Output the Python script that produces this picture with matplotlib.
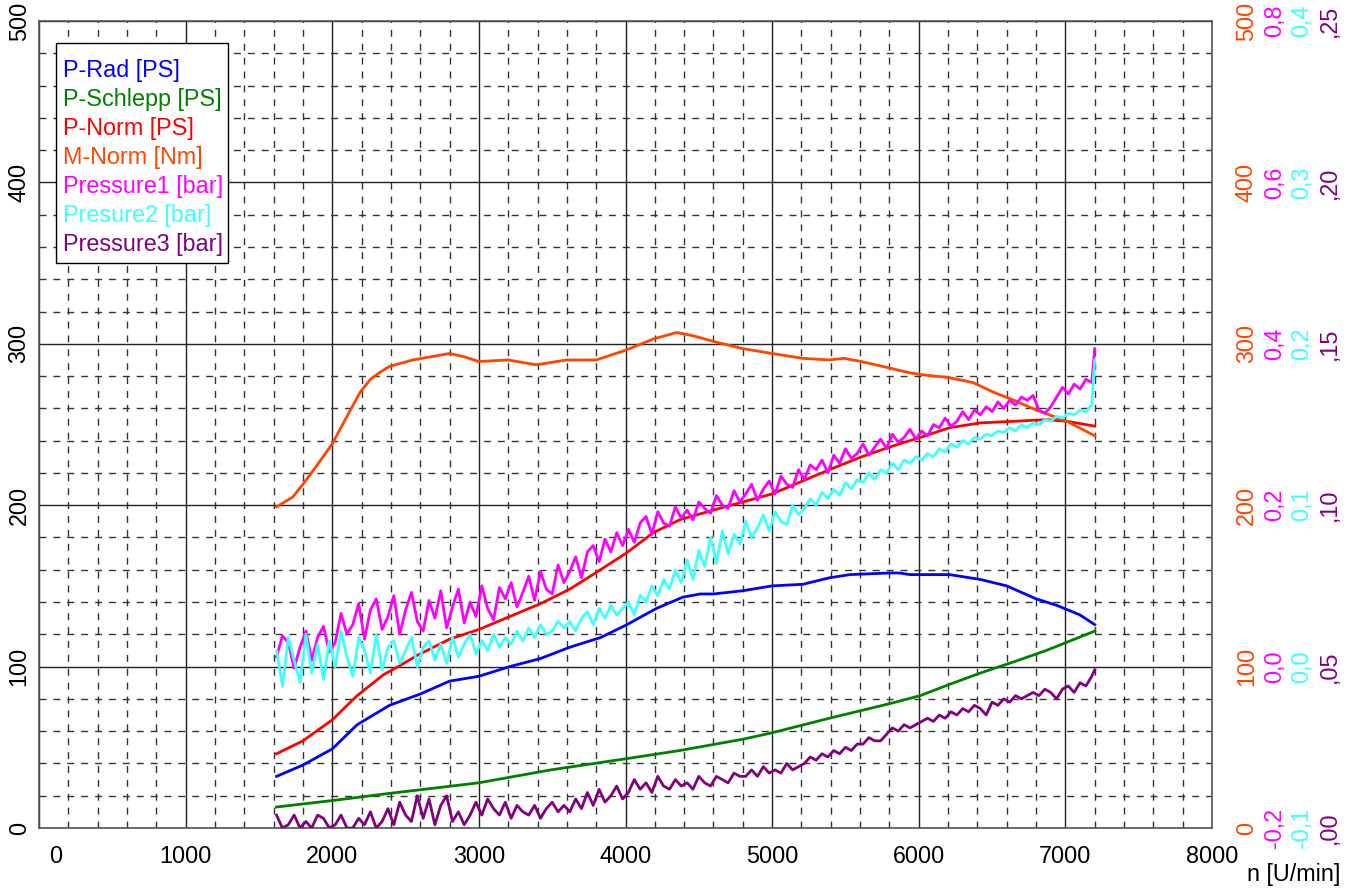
import numpy as np
import matplotlib
matplotlib.use("Agg")
import matplotlib.pyplot as plt
import matplotlib.transforms as mtransforms
from matplotlib.patches import Rectangle
from matplotlib.ticker import MultipleLocator

plt.rcParams["font.family"] = ["Liberation Sans", "DejaVu Sans"]
plt.rcParams["font.size"] = 16.8

# smooth curves: engine speed [U/min] and value
rpm_mnorm = [1620, 1730, 1800, 1890, 2000, 2100, 2190, 2260, 2320, 2390, 2550, 2800,
             2900, 3000, 3200, 3390, 3600, 3800, 4000, 4190, 4350, 4460, 4620, 4800,
             5000, 5210, 5390, 5490, 5610, 5800, 5940, 6010, 6210, 6370, 6510, 6650,
             6800, 7010, 7200]
m_norm = [199, 205, 213, 224, 238, 255, 270, 278, 282, 286, 290, 294,
          292, 289, 290, 287, 290, 290, 296, 303, 307, 305, 301, 297,
          294, 291, 290, 291, 289, 285, 282, 281, 279, 276, 270, 265,
          259, 252, 243]

rpm_pnorm = [1620, 1800, 2000, 2170, 2350, 2450, 2580, 2800, 3000, 3210, 3420, 3620,
             3760, 4000, 4190, 4370, 4600, 5000, 5390, 5610, 5800, 6010, 6210, 6420,
             6650, 6870, 7010, 7200]
p_norm = [46, 54, 67, 82, 95, 100, 107, 117, 123, 131, 139, 148,
          156, 170, 183, 191, 197, 207, 222, 230, 236, 242, 248, 251,
          252, 253, 252, 249]

rpm_prad = [1620, 1800, 2000, 2170, 2390, 2600, 2800, 3000, 3210, 3420, 3620, 3830,
            4010, 4210, 4390, 4510, 4600, 4800, 5000, 5210, 5390, 5530, 5800, 5870,
            5940, 6150, 6210, 6420, 6600, 6800, 6940, 7100, 7200]
p_rad = [32, 39, 49, 64, 76, 83, 91, 94, 100, 105, 112, 118,
         126, 136, 143, 145, 145, 147, 150, 151, 155, 157, 158, 158,
         157, 157, 157, 154, 150, 142, 138, 132, 126]

rpm_schlepp = [1620, 2000, 2350, 3000, 3490, 4010, 4370, 4800, 5000, 5390, 5800,
               6010, 6210, 6420, 6650, 6870, 7200]
p_schlepp = [13, 17, 21, 28, 36, 43, 48, 55, 59, 68, 77,
             82, 89, 96, 103, 110, 122]

# pressure channels, sampled every 40 U/min from 1620, last sample at 7200
rpm_press = np.append(np.arange(1620, 7181, 40), 7200)

pressure1 = [
    0.012, 0.038, 0.030, -0.002, 0.024, 0.044, 0.008, 0.036, 0.050, 0.018,
    0.030, 0.066, 0.040, 0.052, 0.078, 0.034, 0.070, 0.084, 0.046, 0.062,
    0.088, 0.040, 0.070, 0.092, 0.056, 0.044, 0.082, 0.060, 0.094, 0.048,
    0.074, 0.096, 0.054, 0.080, 0.062, 0.100, 0.072, 0.058, 0.098, 0.084,
    0.104, 0.074, 0.092, 0.112, 0.082, 0.118, 0.096, 0.090, 0.126, 0.104,
    0.118, 0.136, 0.110, 0.142, 0.150, 0.130, 0.158, 0.142, 0.166, 0.150,
    0.170, 0.154, 0.178, 0.186, 0.164, 0.192, 0.178, 0.174, 0.198, 0.184,
    0.194, 0.182, 0.204, 0.196, 0.190, 0.212, 0.200, 0.196, 0.218, 0.204,
    0.214, 0.226, 0.206, 0.220, 0.230, 0.214, 0.236, 0.226, 0.222, 0.244,
    0.232, 0.250, 0.244, 0.256, 0.240, 0.262, 0.252, 0.270, 0.258, 0.264,
    0.276, 0.262, 0.272, 0.282, 0.270, 0.288, 0.278, 0.284, 0.294, 0.282,
    0.292, 0.286, 0.300, 0.296, 0.308, 0.298, 0.304, 0.316, 0.306, 0.318,
    0.312, 0.322, 0.316, 0.328, 0.320, 0.330, 0.324, 0.334, 0.330, 0.336,
    0.318, 0.314, 0.322, 0.334, 0.346, 0.338, 0.350, 0.344, 0.356, 0.352,
    0.394,
]

pressure2 = [
    0.010, -0.012, 0.018, 0.004, -0.010, 0.020, -0.004, 0.014, -0.008, 0.016,
    0.000, 0.022, 0.006, -0.006, 0.018, 0.010, -0.004, 0.020, -0.002, 0.012,
    0.016, 0.002, 0.010, 0.018, 0.000, 0.012, 0.016, 0.004, 0.014, 0.002,
    0.018, 0.006, 0.014, 0.020, 0.008, 0.016, 0.010, 0.020, 0.012, 0.018,
    0.014, 0.022, 0.016, 0.024, 0.018, 0.026, 0.020, 0.022, 0.028, 0.024,
    0.028, 0.022, 0.030, 0.034, 0.026, 0.036, 0.030, 0.038, 0.032, 0.036,
    0.040, 0.032, 0.044, 0.040, 0.050, 0.044, 0.054, 0.048, 0.060, 0.052,
    0.066, 0.054, 0.072, 0.062, 0.080, 0.064, 0.084, 0.070, 0.082, 0.076,
    0.090, 0.080, 0.086, 0.094, 0.084, 0.096, 0.090, 0.088, 0.100, 0.094,
    0.098, 0.104, 0.100, 0.108, 0.104, 0.110, 0.106, 0.114, 0.110, 0.116,
    0.114, 0.120, 0.116, 0.122, 0.120, 0.126, 0.122, 0.128, 0.126, 0.130,
    0.128, 0.132, 0.130, 0.135, 0.133, 0.138, 0.136, 0.140, 0.138, 0.142,
    0.141, 0.144, 0.143, 0.146, 0.145, 0.148, 0.146, 0.150, 0.148, 0.151,
    0.150, 0.153, 0.152, 0.155, 0.154, 0.157, 0.156, 0.159, 0.158, 0.162,
    0.190,
]

pressure3 = [
    0.004, 0.000, 0.001, 0.004, 0.000, 0.002, 0.000, 0.004, 0.003, 0.000,
    0.001, 0.004, 0.000, 0.000, 0.003, 0.001, 0.005, 0.000, 0.002, 0.006,
    0.001, 0.008, 0.004, 0.002, 0.010, 0.003, 0.009, 0.001, 0.007, 0.010,
    0.002, 0.005, 0.001, 0.004, 0.008, 0.004, 0.009, 0.006, 0.004, 0.008,
    0.003, 0.007, 0.005, 0.004, 0.007, 0.003, 0.006, 0.008, 0.005, 0.007,
    0.005, 0.009, 0.006, 0.011, 0.007, 0.012, 0.008, 0.010, 0.013, 0.009,
    0.011, 0.015, 0.012, 0.014, 0.011, 0.016, 0.013, 0.012, 0.015, 0.013,
    0.014, 0.012, 0.016, 0.014, 0.013, 0.016, 0.015, 0.014, 0.017, 0.016,
    0.016, 0.018, 0.016, 0.019, 0.017, 0.018, 0.017, 0.020, 0.018, 0.019,
    0.020, 0.022, 0.021, 0.023, 0.022, 0.024, 0.023, 0.025, 0.024, 0.026,
    0.026, 0.028, 0.027, 0.027, 0.029, 0.031, 0.030, 0.032, 0.031, 0.032,
    0.033, 0.034, 0.033, 0.035, 0.034, 0.036, 0.035, 0.037, 0.036, 0.038,
    0.037, 0.035, 0.039, 0.038, 0.040, 0.039, 0.041, 0.040, 0.041, 0.042,
    0.041, 0.043, 0.042, 0.040, 0.043, 0.044, 0.042, 0.045, 0.044, 0.047,
    0.049,
]

labels = ["P-Rad [PS]", "P-Schlepp [PS]", "P-Norm [PS]", "M-Norm [Nm]",
          "Pressure1 [bar]", "Presure2 [bar]", "Pressure3 [bar]"]

x_ticks = [0, 1000, 2000, 3000, 4000, 5000, 6000, 7000, 8000]
ps_ticks = [0, 100, 200, 300, 400, 500]

# right-hand scales
nm_ticks = [0, 100, 200, 300, 400, 500]
nm_labels = ["0", "100", "200", "300", "400", "500"]
p1_ticks = [-0.2, 0.0, 0.2, 0.4, 0.6, 0.8]
p1_labels = ["-0,2", "0,0", "0,2", "0,4", "0,6", "0,8"]
p2_ticks = [-0.1, 0.0, 0.1, 0.2, 0.3, 0.4]
p2_labels = ["-0,1", "0,0", "0,1", "0,2", "0,3", "0,4"]
p3_ticks = [0.0, 0.05, 0.10, 0.15, 0.20, 0.25]
p3_labels = [",00", ",05", ",10", ",15", ",20", ",25"]

C_RAD = "#0000ff"
C_SCHLEPP = "#008000"
C_NORM = "#ff0000"
C_MNORM = "#ff4500"
C_P1 = "#ff00ff"
C_P2 = "#40ffff"
C_P3 = "#800080"
LW = 2.0

fig = plt.figure(figsize=(13.55, 8.89), dpi=100)
ax = fig.add_axes([39 / 1355, 61 / 889, 1173 / 1355, 807 / 889])
ax.set_xlim(0, 8000)
ax.set_ylim(0, 500)
ax.set_xticks(x_ticks)
ax.set_yticks(ps_ticks)
ax.xaxis.set_minor_locator(MultipleLocator(200))
ax.yaxis.set_minor_locator(MultipleLocator(20))
ax.grid(which="major", color="#222222", lw=1.0, ls="-")
ax.grid(which="minor", color="#333333", lw=1.0, ls=(0, (5, 5)))
ax.tick_params(which="both", length=0)
ax.tick_params(axis="x", pad=12)
ax.tick_params(axis="y", pad=6)
for lbl in ax.get_yticklabels():
    lbl.set_rotation(90)
    lbl.set_va("center")
# the "0" under the origin sits a little to the right in the original
first = ax.get_xticklabels()[0]
first.set_transform(first.get_transform()
                    + mtransforms.ScaledTranslation(0.17, 0, fig.dpi_scale_trans))
for s in ax.spines.values():
    s.set_color("#555555")
    s.set_linewidth(1.2)

h_rad, = ax.plot(rpm_prad, p_rad, color=C_RAD, lw=LW)
h_sch, = ax.plot(rpm_schlepp, p_schlepp, color=C_SCHLEPP, lw=LW)
h_norm, = ax.plot(rpm_pnorm, p_norm, color=C_NORM, lw=LW)


def make_twin(ylim, ticks, ticklabels, color, pad):
    tw = ax.twinx()
    tw.set_ylim(*ylim)
    tw.set_yticks(ticks)
    tw.set_yticklabels(ticklabels, rotation=90, va="center", color=color)
    tw.tick_params(axis="y", length=0, pad=pad)
    for s in tw.spines.values():
        s.set_visible(False)
    return tw


ax_nm = make_twin((0, 500), nm_ticks, nm_labels, C_MNORM, 16.5)
ax_p1 = make_twin((-0.2, 0.8), p1_ticks, p1_labels, C_P1, 36.5)
ax_p2 = make_twin((-0.1, 0.4), p2_ticks, p2_labels, C_P2, 56)
ax_p3 = make_twin((0, 0.25), p3_ticks, p3_labels, C_P3, 76)

h_mn, = ax_nm.plot(rpm_mnorm, m_norm, color=C_MNORM, lw=LW)
h_p1, = ax_p1.plot(rpm_press, pressure1, color=C_P1, lw=LW)
h_p2, = ax_p2.plot(rpm_press, pressure2, color=C_P2, lw=LW)
h_p3, = ax_p3.plot(rpm_press, pressure3, color=C_P3, lw=LW)

# legend: text-only entries inside a plain black box
box = Rectangle((17 / 1173, 565 / 807), 172 / 1173, 220 / 807,
                transform=ax_p3.transAxes, facecolor="white",
                edgecolor="black", lw=1.0, zorder=4.9)
ax_p3.add_patch(box)
handles = [h_rad, h_sch, h_norm, h_mn, h_p1, h_p2, h_p3]
leg = ax_p3.legend(handles, labels, loc="upper left",
                   bbox_to_anchor=(24 / 1173, 1 - 38 / 807),
                   handlelength=0, handletextpad=0, labelcolor="linecolor",
                   frameon=False, borderpad=0, labelspacing=0.26,
                   borderaxespad=0)
leg.set_zorder(5)

fig.text(1340 / 1355, 3 / 889, "n [U/min]", ha="right", va="bottom")

fig.savefig("out.png", dpi=100)
